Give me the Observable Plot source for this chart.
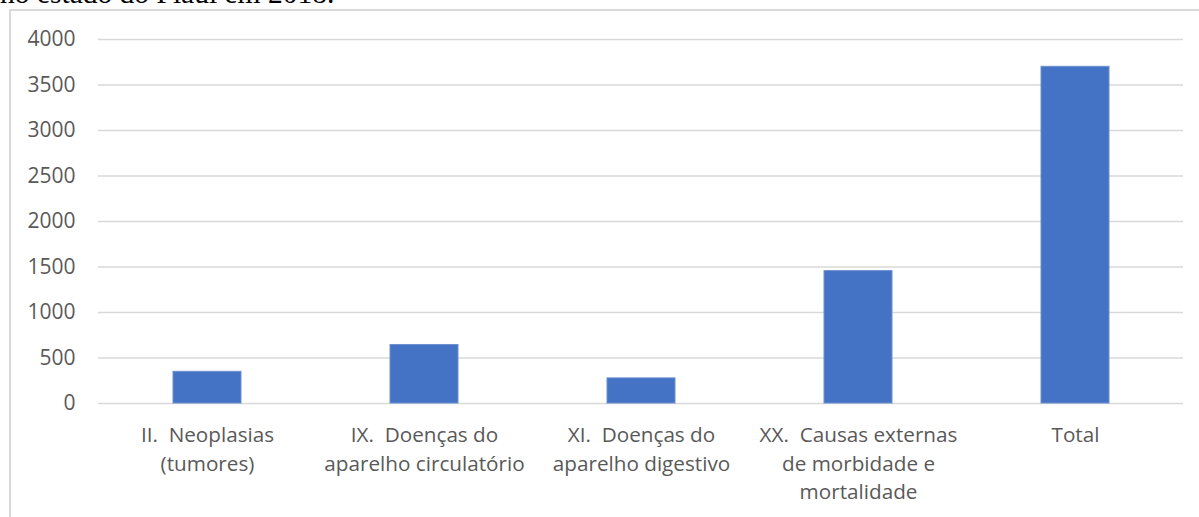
<!DOCTYPE html>
<html><head><meta charset="utf-8">
<script src="https://cdn.jsdelivr.net/npm/d3@7"></script>
<script src="https://cdn.jsdelivr.net/npm/@observablehq/plot@0.6"></script>
<style>
html,body{margin:0;padding:0;background:#fff;overflow:hidden}
#wrap{position:relative;width:1199px;height:517px;overflow:hidden}
#title{position:absolute;left:0;top:-21px;font-family:"Liberation Serif",serif;font-size:29.5px;line-height:1;color:#000;white-space:nowrap}
#frame{position:absolute;left:9px;top:9px;width:1300px;height:600px;border:2px solid #d9d9d9;box-sizing:border-box}
#chart{position:absolute;left:0;top:0}
#chart svg text{white-space:pre}
</style></head><body>
<div id="wrap"><div id="title">no estado do Piauí em 2018.</div><div id="frame"></div><div id="chart"></div></div>
<script>
const categories = [
  "II.  Neoplasias\n(tumores)",
  "IX.  Doenças do\naparelho circulatório",
  "XI.  Doenças do\naparelho digestivo",
  "XX.  Causas externas\nde morbidade e\nmortalidade",
  "Total"
];
const values = [348, 643, 276, 1455, 3700];
const yTicks = [0, 500, 1000, 1500, 2000, 2500, 3000, 3500, 4000];

const data = categories.map((c, i) => ({category: c, value: values[i]}));

const chart = Plot.plot({
  width: 1199, height: 517,
  marginLeft: 98, marginRight: 16, marginTop: 39, marginBottom: 114,
  style: {fontFamily: '"Open Sans", sans-serif', background: "transparent", color: "#595959", overflow: "visible"},
  x: {domain: categories, paddingInner: 0.687, paddingOuter: 0.3435, axis: null},
  y: {domain: [0, 4000], axis: null},
  marks: [
    Plot.gridY(yTicks, {stroke: "#d9d9d9", strokeOpacity: 1, strokeWidth: 1.5}),
    Plot.axisY(yTicks, {tickSize: 0, tickPadding: 23, fontSize: 21, fill: "#595959", label: null, tickFormat: d => String(d)}),
    Plot.barY(data, {x: "category", y: "value", fill: "#4472C4", stroke: "#6d90d0", strokeWidth: 1}),
    Plot.axisX({tickSize: 0, tickPadding: 18.5, fontSize: 20.7, lineHeight: 1.38, fill: "#595959", label: null, tickFormat: d => d})
  ]
});
document.getElementById("chart").appendChild(chart);
</script>
</body></html>
